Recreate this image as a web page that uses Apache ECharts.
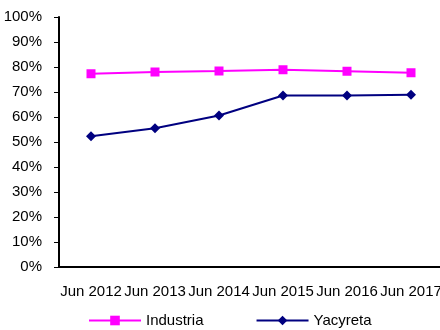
<!DOCTYPE html>
<html>
<head>
<meta charset="utf-8">
<script src="https://cdn.jsdelivr.net/npm/echarts@6/dist/echarts.min.js"></script>
<style>
  html, body { margin: 0; padding: 0; background: #fff; }
  #chart { width: 440px; height: 330px; }
</style>
</head>
<body>
<div id="chart"></div>
<script>
var categories = ['Jun 2012', 'Jun 2013', 'Jun 2014', 'Jun 2015', 'Jun 2016', 'Jun 2017']
var industria = [77.3, 78.0, 78.4, 78.9, 78.3, 77.7]
var yacyreta = [52.3, 55.5, 60.6, 68.6, 68.6, 68.9]
var fontFamily = 'Liberation Sans, Arial, sans-serif'
var fontColor = '#000'

var chart = echarts.init(document.getElementById('chart'))
var option = {
  animation: false,
  grid: {
    left: 59,
    top: 17,
    width: 384,
    height: 250,
    containLabel: false,
    outerBoundsMode: 'none'
  },
  legend: {
    left: 88,
    top: 313,
    padding: 0,
    itemWidth: 52,
    itemHeight: 12,
    itemGap: 52,
    textStyle: { fontFamily: fontFamily, fontSize: 15, color: fontColor },
    data: ['Industria', 'Yacyreta']
  },
  xAxis: {
    type: 'category',
    boundaryGap: true,
    data: categories,
    axisLine: { lineStyle: { color: '#000', width: 2 } },
    axisTick: { length: 5, lineStyle: { color: '#000', width: 1 } },
    axisLabel: {
      interval: 0,
      margin: 17,
      fontFamily: fontFamily,
      fontSize: 15,
      color: fontColor
    },
    splitLine: { show: false }
  },
  yAxis: {
    type: 'value',
    min: 0,
    max: 100,
    interval: 10,
    axisLine: { show: true, lineStyle: { color: '#000', width: 2 } },
    axisTick: { show: true, length: 5, lineStyle: { color: '#000', width: 1 } },
    axisLabel: {
      formatter: '{value}%',
      margin: 17,
      fontFamily: fontFamily,
      fontSize: 15,
      color: fontColor
    },
    splitLine: { show: false }
  },
  series: [
    {
      name: 'Industria',
      type: 'line',
      data: industria,
      symbol: 'rect',
      symbolSize: 9,
      itemStyle: { color: '#ff00ff' },
      lineStyle: { color: '#ff00ff', width: 2 }
    },
    {
      name: 'Yacyreta',
      type: 'line',
      data: yacyreta,
      symbol: 'diamond',
      symbolSize: 10,
      itemStyle: { color: '#000080' },
      lineStyle: { color: '#000080', width: 2 }
    }
  ]
}
chart.setOption(option)
</script>
</body>
</html>
